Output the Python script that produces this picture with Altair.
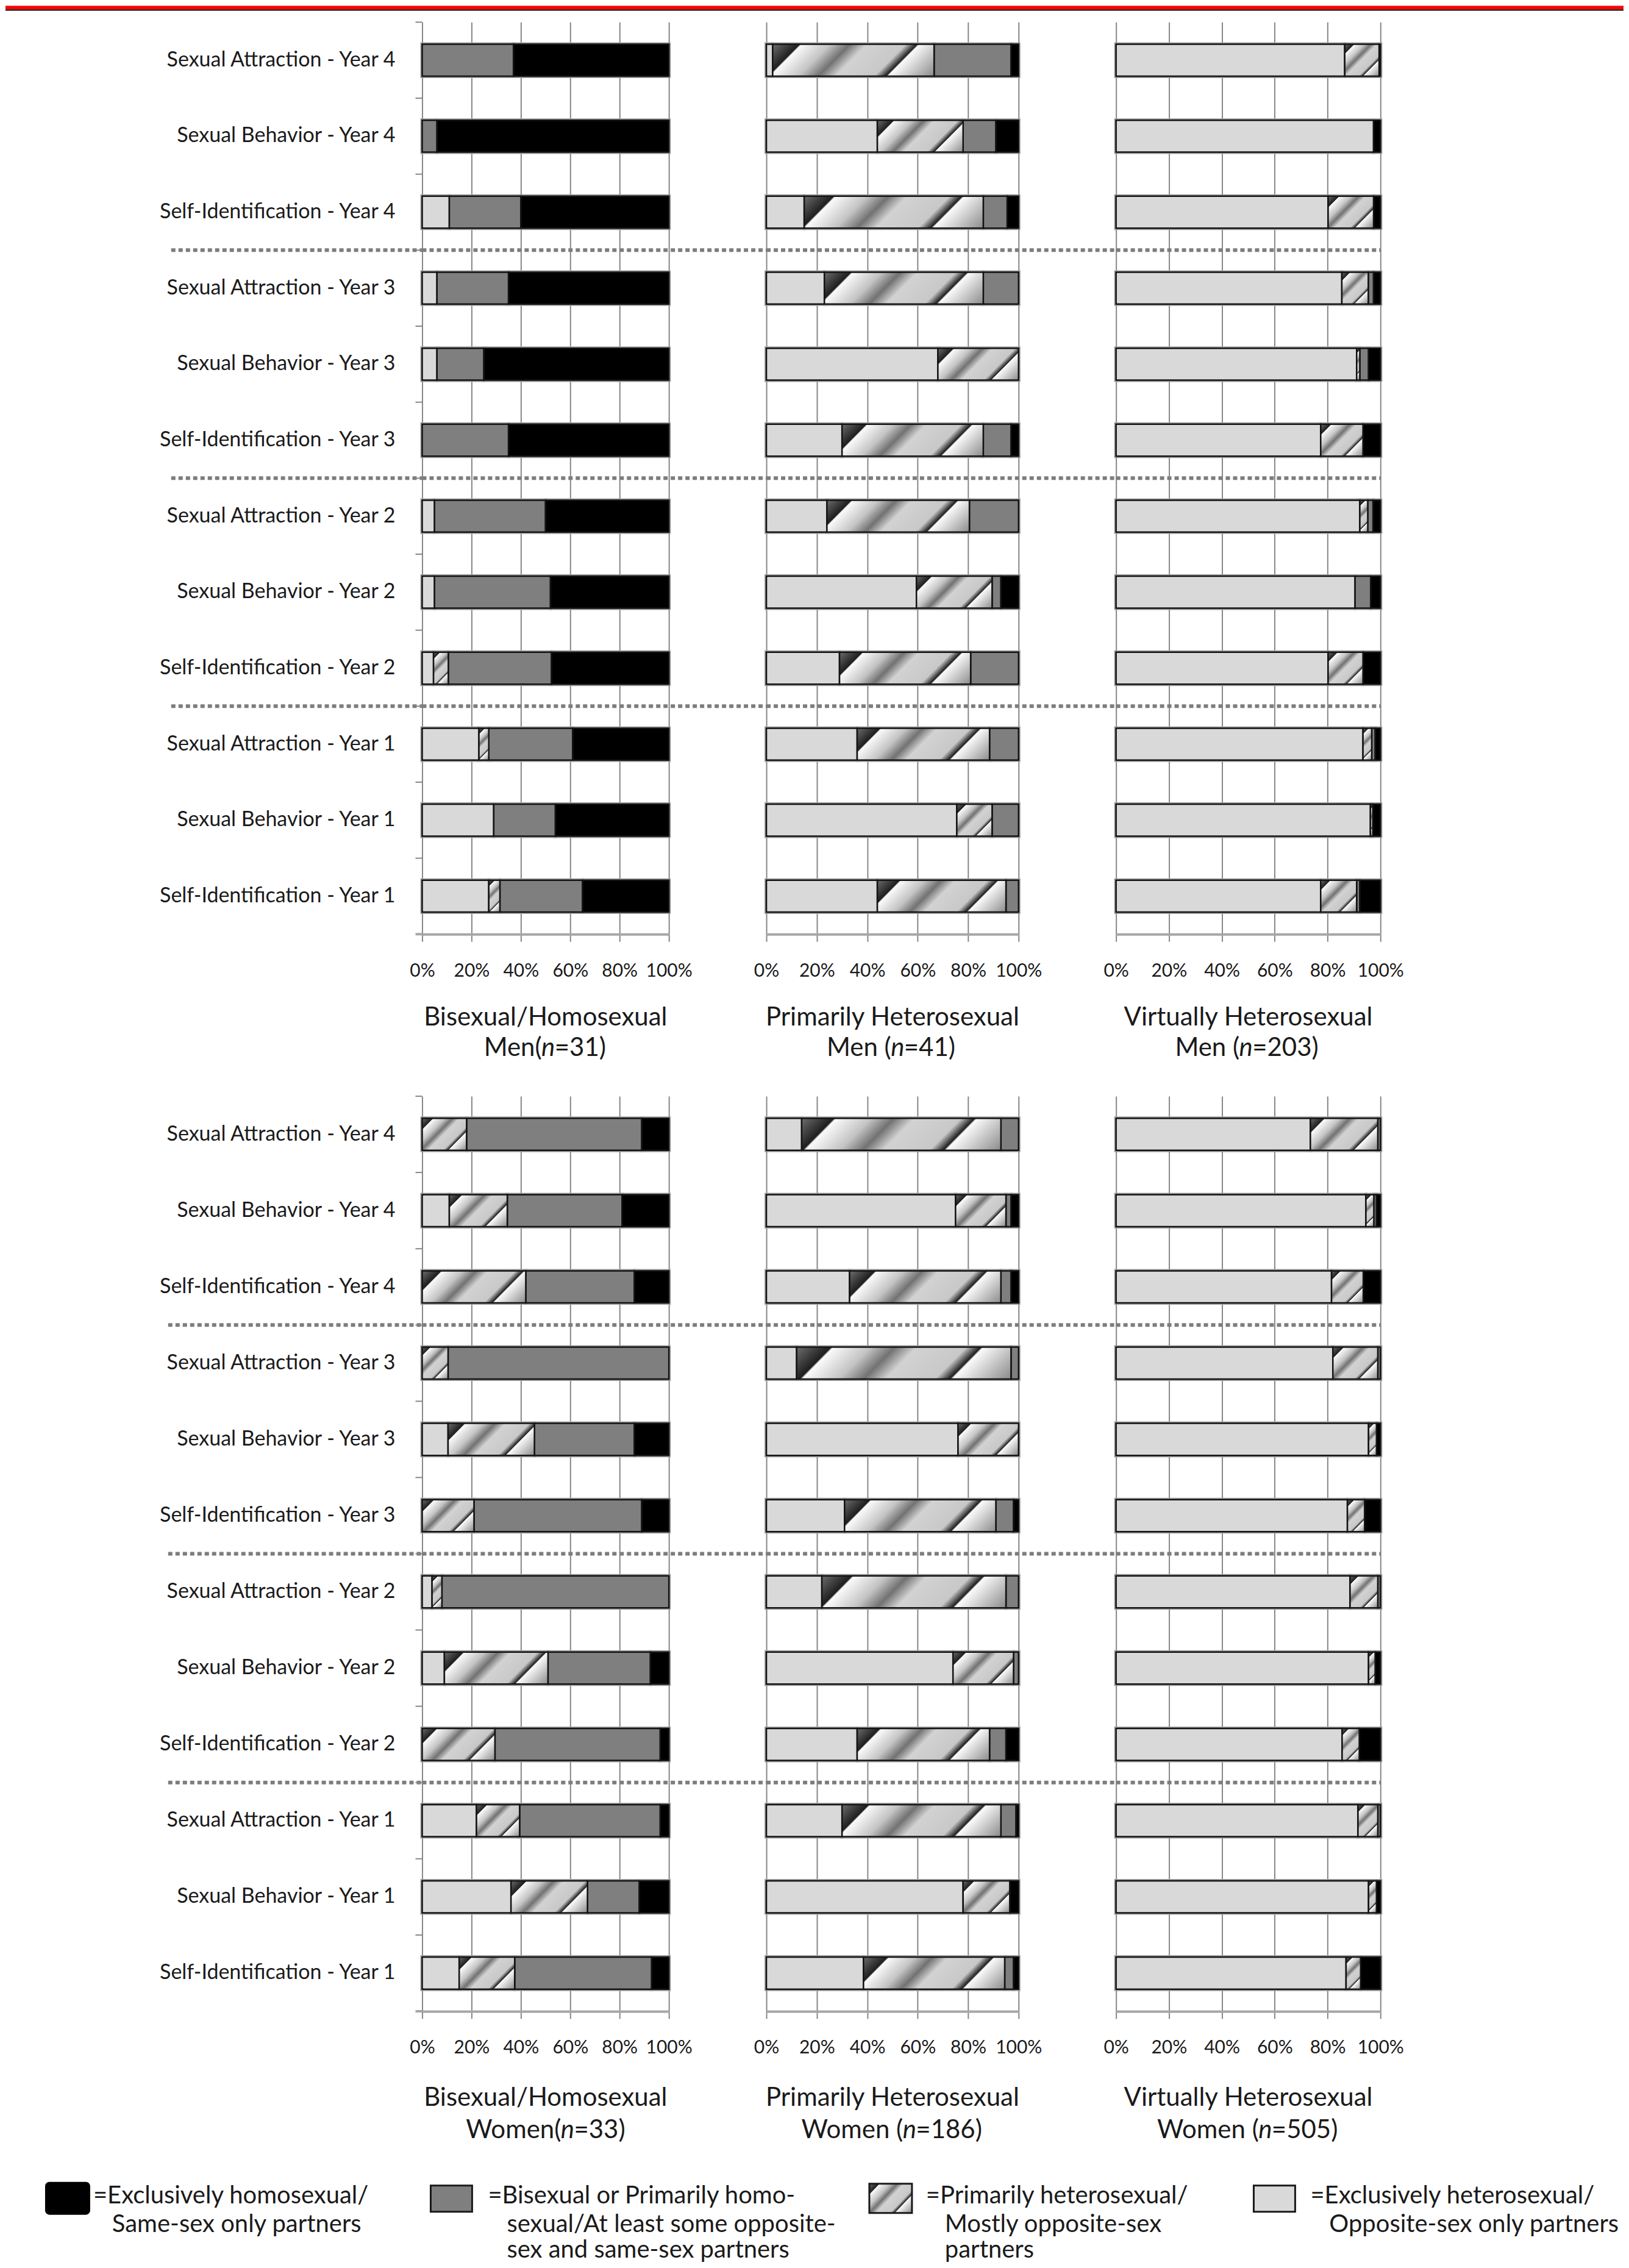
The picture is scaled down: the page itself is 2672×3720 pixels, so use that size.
import altair as alt
import pandas as pd

FONT = "Lato"
TXT = "#1a1a1a"

# ---------------- data ----------------
row_labels = [
    "Sexual Attraction - Year 4", "Sexual Behavior - Year 4", "Self-Identification - Year 4",
    "Sexual Attraction - Year 3", "Sexual Behavior - Year 3", "Self-Identification - Year 3",
    "Sexual Attraction - Year 2", "Sexual Behavior - Year 2", "Self-Identification - Year 2",
    "Sexual Attraction - Year 1", "Sexual Behavior - Year 1", "Self-Identification - Year 1",
]
year_starts = ["Sexual Attraction - Year 3", "Sexual Attraction - Year 2", "Sexual Attraction - Year 1"]

categories = ["Exclusively heterosexual", "Primarily heterosexual",
              "Bisexual or primarily homosexual", "Exclusively homosexual"]
cat_colors = ["#d9d9d9", "#b0b0b0", "#7f7f7f", "#000000"]
HATCHED = categories[1]

x_ticks = [0, 0.2, 0.4, 0.6, 0.8, 1.0]

# Bisexual/Homosexual Men (n=31)
bhm_excl_het = [0, 0, 11, 6, 6, 0, 5, 5, 4.6, 23, 29, 27]
bhm_prim_het = [0, 0, 0, 0, 0, 0, 0, 0, 6, 4, 0, 4.5]
bhm_bi       = [37, 6, 29, 29, 19, 35, 45, 47, 41.8, 34, 25, 33.5]
bhm_excl_hom = [63, 94, 60, 65, 75, 65, 50, 48, 47.6, 39, 46, 35]

# Primarily Heterosexual Men (n=41)
phm_excl_het = [2.5, 44, 15, 23, 68, 30, 24, 59.5, 29, 36, 75.5, 44]
phm_prim_het = [64, 34, 71, 63, 32, 56, 56.5, 30, 52, 52.5, 14, 51]
phm_bi       = [30.5, 13, 9.5, 14, 0, 11, 19.5, 3.5, 19, 11.5, 10.5, 5]
phm_excl_hom = [3, 9, 4.5, 0, 0, 3, 0, 7, 0, 0, 0, 0]

# Virtually Heterosexual Men (n=203)
vhm_excl_het = [86.5, 97.4, 80.2, 85.4, 91, 77.4, 92.2, 90.4, 80.2, 93.4, 96.2, 77.4]
vhm_prim_het = [13, 0, 17.2, 10, 1.2, 16, 3, 0, 13.2, 3.3, 0.9, 13.6]
vhm_bi       = [0, 0, 0, 2, 3.3, 0, 2, 5.9, 0, 1.3, 0, 1.2]
vhm_excl_hom = [0.5, 2.6, 2.6, 2.6, 4.5, 6.6, 2.8, 3.7, 6.6, 2, 2.9, 7.8]

# Bisexual/Homosexual Women (n=33)
bhw_excl_het = [0, 11, 0, 0, 10.5, 0, 4, 9, 0, 22, 36, 15]
bhw_prim_het = [18, 23.5, 42, 10.5, 35, 21, 4, 42, 29.5, 17.5, 31, 22.5]
bhw_bi       = [71, 46.5, 44, 89.5, 40.5, 68, 92, 41.5, 67, 57, 21, 55.5]
bhw_excl_hom = [11, 19, 14, 0, 14, 11, 0, 7.5, 3.5, 3.5, 12, 7]

# Primarily Heterosexual Women (n=186)
phw_excl_het = [14, 75, 33, 12, 76, 31, 22, 74, 36, 30, 78, 38.5]
phw_prim_het = [79, 20, 60, 85, 24, 60, 73, 24, 52.5, 63, 18.5, 56]
phw_bi       = [7, 2, 4, 3, 0, 7, 5, 2, 6.5, 6, 0, 3.5]
phw_excl_hom = [0, 3, 3, 0, 0, 2, 0, 0, 5, 1, 3.5, 2]

# Virtually Heterosexual Women (n=505)
vhw_excl_het = [73.5, 94.5, 81.5, 82, 95.5, 87.5, 88.5, 95.5, 85.5, 91.5, 95.5, 87]
vhw_prim_het = [25.5, 3, 12, 17, 3, 6.5, 10.5, 2.5, 6.5, 7.5, 3, 5.5]
vhw_bi       = [1, 1, 0, 1, 0, 0, 1, 0, 0, 1, 0, 0]
vhw_excl_hom = [0, 1.5, 6.5, 0, 1.5, 6, 0, 2, 8, 0, 1.5, 7.5]

title_line1 = ["Bisexual/Homosexual", "Primarily Heterosexual", "Virtually Heterosexual"]
men_left = ["Men(", "Men (", "Men ("]
men_right = ["=31)", "=41)", "=203)"]
women_left = ["Women(", "Women (", "Women ("]
women_right = ["=33)", "=186)", "=505)"]

legend_order = ["Exclusively homosexual", "Bisexual or primarily homosexual",
                "Primarily heterosexual", "Exclusively heterosexual"]
legend_first = ["=Exclusively homosexual/", "=Bisexual or Primarily homo-",
                "=Primarily heterosexual/", "=Exclusively heterosexual/"]
legend_more = [["Same-sex only partners"],
               ["sexual/At least some opposite-", "sex and same-sex partners"],
               ["Mostly opposite-sex", "partners"],
               ["Opposite-sex only partners"]]

# ---------------- layout constants ----------------
TOTAL_W = 2656
LABEL_W = 524
GAP = 160
PANEL_W = [405, 414, 434]
H_TOP = 1497
H_BOT = 1502
ROW_GAP = 266
LEG_H = 146
P_IN = 0.58
BAR_H = 52
SEP_COLOR = "#7d7d7d"

HATCH_STOPS = [(0.0, "#6e6e6e"), (0.14, "#1e1e1e"), (0.15, "#fafafa"), (0.30, "#c4c4c4"),
               (0.40, "#727272"), (0.49, "#d2d2d2"), (0.69, "#c8c8c8"), (0.75, "#1e1e1e"),
               (0.76, "#fafafa"), (1.0, "#8a8a8a")]


def gradient_expr(W):
    k = f"({BAR_H}/max(1,(datum.x1-datum.x0)*{W}))"
    s = f"((1+{k})/(1+{k}*{k}))"
    stops = ",".join("{'offset':%s,'color':'%s'}" % (o, c) for o, c in HATCH_STOPS)
    return ("{'gradient':'linear','x1':0,'y1':0,'x2':%s,'y2':%s*%s,'stops':[%s]}" % (s, s, k, stops))


def static_gradient(k):
    s = (1 + k) / (1 + k * k)
    return {"gradient": "linear", "x1": 0, "y1": 0, "x2": s, "y2": s * k,
            "stops": [{"offset": o, "color": c} for o, c in HATCH_STOPS]}


CW = {'M': 0.88, 'W': 1.0, 'e': 0.52, 'n': 0.55, 'o': 0.56, 'm': 0.83, '(': 0.30, ')': 0.30,
      ' ': 0.19, '=': 0.58}


def tw(s, size):
    return sum(CW.get(ch, 0.58) for ch in s) * size


def long_df(series):
    recs = []
    for ci, (cat, vals) in enumerate(zip(categories, series)):
        for r, v in zip(row_labels, vals):
            recs.append({"row": r, "cat": cat, "ord": ci, "value": v})
    return pd.DataFrame(recs)


def ytext(txt, x, y, size, align="center", italic=False):
    return alt.Chart(pd.DataFrame({"t": [txt]})).mark_text(
        font=FONT, fontSize=size, align=align, baseline="middle", color=TXT,
        fontStyle="italic" if italic else "normal"
    ).encode(text="t:N", x=alt.value(x), y=alt.value(y))


def yscale():
    return alt.Scale(domain=row_labels, paddingInner=P_IN, paddingOuter=P_IN / 2)


def sep_rule(step, x0, x1):
    return alt.Chart(pd.DataFrame({"row": year_starts})).mark_rule(
        color=SEP_COLOR, strokeWidth=6, strokeDash=[7, 5], yOffset=-step / 2).encode(
        y=alt.Y("row:N", scale=yscale(), axis=None, bandPosition=0.5),
        x=alt.value(x0), x2=alt.value(x1))


def panel(series, W, H, t1, t2l, t2r, dy1, dy2, first, ext):
    step = H / 12
    df = long_df(series)
    y = alt.Y("row:N", scale=yscale(), axis=None)
    x = alt.X("x0:Q", scale=alt.Scale(domain=[0, 1], nice=False),
              axis=alt.Axis(values=x_ticks, format=".0%", title=None, grid=True,
                            gridColor="#878787", gridWidth=2, domainColor="#a6a6a6",
                            domainWidth=4, tickColor="#878787", tickWidth=2, tickSize=12,
                            labelFont=FONT, labelFontSize=30, labelColor=TXT,
                            labelPadding=33, labelFlush=False, labelOverlap=False))
    base = alt.Chart(df).transform_filter("datum.value > 0").transform_stack(
        stack="value", groupby=["row"], as_=["x0", "x1"],
        sort=[alt.SortField("ord", order="ascending")], offset="normalize")
    halo = base.mark_bar(fill="#9c9c9c", stroke="#9c9c9c", strokeWidth=6).encode(
        x=x, x2="x1:Q", y=y)
    plain = base.transform_filter(alt.datum.cat != HATCHED).mark_bar(
        stroke="#141414", strokeWidth=2.5).encode(
        x=x, x2="x1:Q", y=y,
        fill=alt.Fill("cat:N", scale=alt.Scale(domain=categories, range=cat_colors), legend=None))
    hatch = base.transform_filter(alt.datum.cat == HATCHED).mark_bar(
        stroke="#141414", strokeWidth=2.5, fill={"expr": gradient_expr(W)}).encode(
        x=x, x2="x1:Q", y=y)
    layers = [halo, plain, hatch, sep_rule(step, 0, ext)]
    if first:
        ticks = alt.Chart(pd.DataFrame({"row": row_labels})).mark_rule(
            color="#878787", strokeWidth=2, yOffset=-step / 2).encode(
            y=alt.Y("row:N", scale=yscale(), axis=None, bandPosition=0.5),
            x=alt.value(-11), x2=alt.value(0))
        dom = alt.Chart(pd.DataFrame({"a": [0]})).mark_rule(
            color="#a6a6a6", strokeWidth=4).encode(
            y=alt.value(H), x=alt.value(-11), x2=alt.value(0))
        layers += [ticks, dom]
    size = 42
    c = W / 2
    layers.append(ytext(t1, c, H + dy1, size))
    wl, wn, wr = tw(t2l, size), 0.5 * size, tw(t2r, size)
    start = c - (wl + wn + wr) / 2
    layers.append(ytext(t2l, start + wl, H + dy2, size, align="right"))
    layers.append(ytext("n", start + wl + wn / 2, H + dy2, size, italic=True))
    layers.append(ytext(t2r, start + wl + wn, H + dy2, size, align="left"))
    return alt.layer(*layers).properties(width=W, height=H)


def label_chart(H, sep_start, banner=False):
    step = H / 12
    labels = alt.Chart(pd.DataFrame({"row": row_labels})).mark_text(
        font=FONT, fontSize=34, align="right", baseline="middle", color=TXT).encode(
        y=alt.Y("row:N", scale=yscale(), axis=None, bandPosition=0.5),
        x=alt.value(640), text="row:N")
    layers = [labels, sep_rule(step, sep_start, LABEL_W + GAP)]
    if banner:
        one = pd.DataFrame({"a": [0]})
        layers.append(alt.Chart(one).mark_rect(color="#ff0000").encode(
            x=alt.value(0), x2=alt.value(TOTAL_W), y=alt.value(-27), y2=alt.value(-21)))
        layers.append(alt.Chart(one).mark_rule(color="#000000", strokeWidth=2).encode(
            x=alt.value(0), x2=alt.value(TOTAL_W), y=alt.value(-20)))
    return alt.layer(*layers).properties(width=LABEL_W, height=H)


def row_cells(series_list, H, lefts, rights, dy1, dy2, sep_start, banner):
    cells = [label_chart(H, sep_start, banner)]
    for i, series in enumerate(series_list):
        W = PANEL_W[i]
        ext = W + GAP if i < 2 else W
        cells.append(panel(series, W, H, title_line1[i], lefts[i], rights[i], dy1, dy2, i == 0, ext))
    return cells


top_cells = row_cells([[bhm_excl_het, bhm_prim_het, bhm_bi, bhm_excl_hom],
                       [phm_excl_het, phm_prim_het, phm_bi, phm_excl_hom],
                       [vhm_excl_het, vhm_prim_het, vhm_bi, vhm_excl_hom]],
                      H_TOP, men_left, men_right, 137, 187, 272, True)
bottom_cells = row_cells([[bhw_excl_het, bhw_prim_het, bhw_bi, bhw_excl_hom],
                          [phw_excl_het, phw_prim_het, phw_bi, phw_excl_hom],
                          [vhw_excl_het, vhw_prim_het, vhw_bi, vhw_excl_hom]],
                         H_BOT, women_left, women_right, 142, 195, 267, False)

# legend (a cell in the first column; its marks run across the full width)
swatch_centers = [102, 732, 1453, 2083]
text_starts = [144, 792, 1511, 2142]
leg_df = pd.DataFrame({"idx": list(range(4)), "cat": legend_order})
line_recs = []
for i, (f, more) in enumerate(zip(legend_first, legend_more)):
    line_recs.append({"idx": i, "line": 0, "text": f})
    for j, t in enumerate(more):
        line_recs.append({"idx": i, "line": j + 1, "text": t})
lines_df = pd.DataFrame(line_recs)

sw_x = alt.X("idx:Q", scale=alt.Scale(domain=[0, 1, 2, 3], range=swatch_centers), axis=None)
tx_x = alt.X("idx:Q", scale=alt.Scale(domain=[0, 1, 2, 3], range=text_starts), axis=None)
tx_y = alt.Y("line:Q", scale=alt.Scale(domain=[0, 1, 2], range=[37, 84, 126]), axis=None)
LEG_FS = 40

leg_black = alt.Chart(leg_df).transform_filter("datum.idx == 0").mark_rect(
    fill="#000000", stroke="#000000", strokeWidth=2, cornerRadius=6, xOffset=-36, x2Offset=36).encode(
    x=sw_x, x2="idx", y=alt.value(15), y2=alt.value(67))
leg_plain = alt.Chart(leg_df).transform_filter("datum.idx == 1 || datum.idx == 3").mark_rect(
    stroke="#1a1a1a", strokeWidth=3, xOffset=-34, x2Offset=34).encode(
    x=sw_x, x2="idx", y=alt.value(20), y2=alt.value(63),
    fill=alt.Fill("cat:N", scale=alt.Scale(domain=categories, range=cat_colors), legend=None))
leg_hatch = alt.Chart(leg_df).transform_filter("datum.idx == 2").mark_rect(
    stroke="#1a1a1a", strokeWidth=3, xOffset=-35, x2Offset=35,
    fill=static_gradient(46 / 70)).encode(
    x=sw_x, x2="idx", y=alt.value(17), y2=alt.value(65))
leg_t0 = alt.Chart(lines_df).transform_filter("datum.line == 0").mark_text(
    font=FONT, fontSize=LEG_FS, align="left", baseline="middle", color=TXT).encode(
    x=tx_x, y=tx_y, text="text:N")
leg_t1 = alt.Chart(lines_df).transform_filter("datum.line > 0").mark_text(
    font=FONT, fontSize=LEG_FS, align="left", baseline="middle", color=TXT, dx=31).encode(
    x=tx_x, y=tx_y, text="text:N")
legend = alt.layer(leg_black, leg_plain, leg_hatch, leg_t0, leg_t1).resolve_scale(
    x="independent", y="independent", fill="independent").properties(width=LABEL_W, height=LEG_H)

chart = alt.concat(
    *top_cells, *bottom_cells, legend,
    columns=4, spacing={"row": ROW_GAP, "column": GAP}, bounds="flush",
    padding=0
).configure_view(strokeWidth=0)

chart.save("out.html", embed_options={"renderer": "svg", "actions": False})
